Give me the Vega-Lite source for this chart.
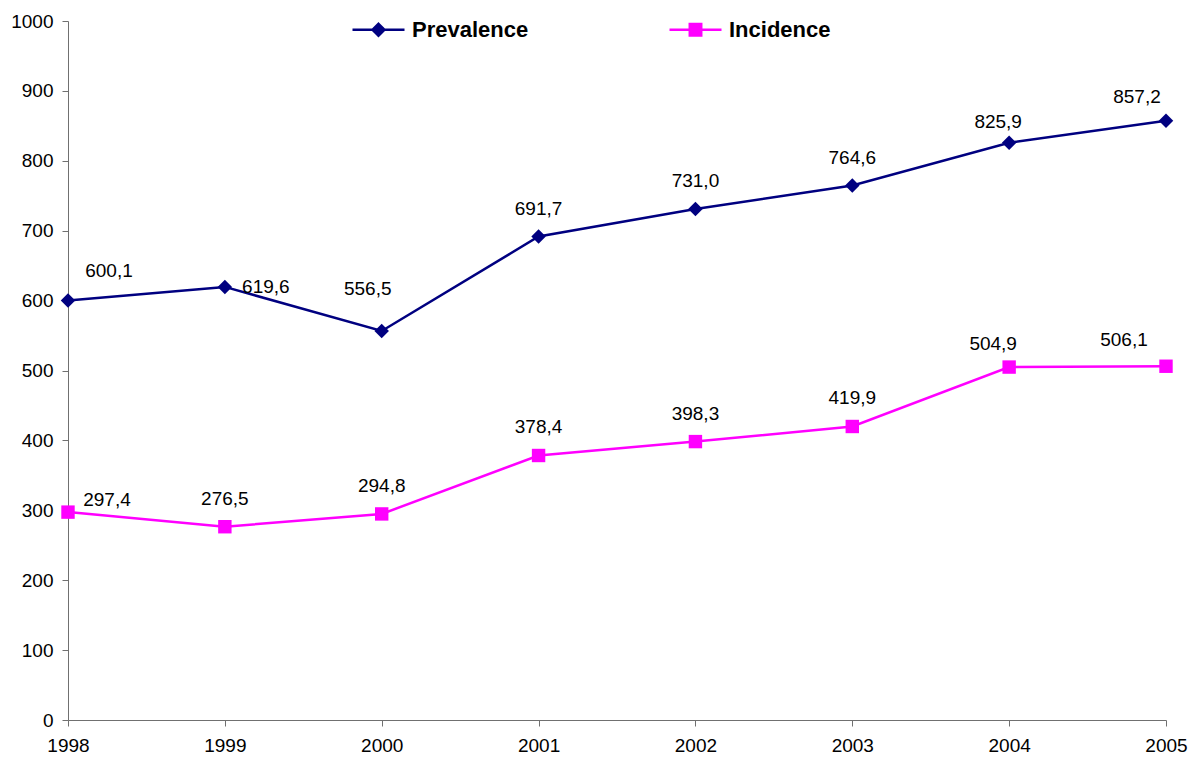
{
  "$schema": "https://vega.github.io/schema/vega-lite/v6.json",
  "width": 1098,
  "height": 699,
  "autosize": {"type": "none"},
  "padding": {"left": 68, "top": 21, "right": 33, "bottom": 39},
  "background": "white",
  "config": {
    "locale": {"number": {"decimal": ",", "thousands": ".", "grouping": [3], "currency": ["", ""]}},
    "view": {"stroke": null},
    "font": "Liberation Sans",
    "axis": {
      "grid": false,
      "title": null,
      "domainColor": "#707070",
      "domainWidth": 1,
      "tickColor": "#707070",
      "tickWidth": 1,
      "tickSize": 6,
      "labelFont": "Liberation Sans",
      "labelFontSize": 19,
      "labelColor": "#000000",
      "labelOverlap": false,
      "labelFlush": false
    },
    "legend": {
      "orient": "none",
      "legendX": 283,
      "legendY": -19,
      "direction": "horizontal",
      "padding": 0,
      "labelFont": "Liberation Sans",
      "labelFontSize": 22,
      "labelFontWeight": "bold",
      "labelColor": "#000000",
      "symbolSize": 2704,
      "symbolStrokeWidth": 2.5,
      "labelOffset": 6,
      "columnPadding": 135
    }
  },
  "data": {
    "values": [
      {"year": 1998, "series": "Prevalence", "value": 600.1},
      {"year": 1999, "series": "Prevalence", "value": 619.6},
      {"year": 2000, "series": "Prevalence", "value": 556.5},
      {"year": 2001, "series": "Prevalence", "value": 691.7},
      {"year": 2002, "series": "Prevalence", "value": 731.0},
      {"year": 2003, "series": "Prevalence", "value": 764.6},
      {"year": 2004, "series": "Prevalence", "value": 825.9},
      {"year": 2005, "series": "Prevalence", "value": 857.2},
      {"year": 1998, "series": "Incidence", "value": 297.4},
      {"year": 1999, "series": "Incidence", "value": 276.5},
      {"year": 2000, "series": "Incidence", "value": 294.8},
      {"year": 2001, "series": "Incidence", "value": 378.4},
      {"year": 2002, "series": "Incidence", "value": 398.3},
      {"year": 2003, "series": "Incidence", "value": 419.9},
      {"year": 2004, "series": "Incidence", "value": 504.9},
      {"year": 2005, "series": "Incidence", "value": 506.1}
    ]
  },
  "encoding": {
    "x": {
      "field": "year",
      "type": "quantitative",
      "scale": {"domain": [1998, 2005], "nice": false, "zero": false},
      "axis": {"values": [1998, 1999, 2000, 2001, 2002, 2003, 2004, 2005], "format": "d", "labelPadding": 10}
    },
    "y": {
      "field": "value",
      "type": "quantitative",
      "scale": {"domain": [0, 1000], "nice": false},
      "axis": {"values": [0, 100, 200, 300, 400, 500, 600, 700, 800, 900, 1000], "format": "d", "labelPadding": 9}
    }
  },
  "layer": [
    {
      "transform": [{"filter": "datum.series == 'Prevalence'"}],
      "mark": {"type": "line", "color": "#000080", "strokeWidth": 2.5},
      "encoding": {}
    },
    {
      "transform": [{"filter": "datum.series == 'Incidence'"}],
      "mark": {"type": "line", "color": "#FF00FF", "strokeWidth": 2.5},
      "encoding": {}
    },
    {
      "transform": [{"filter": "datum.series == 'Prevalence'"}],
      "mark": {"type": "point", "shape": "diamond", "filled": true, "color": "#000080", "opacity": 1, "size": 210},
      "encoding": {}
    },
    {
      "transform": [{"filter": "datum.series == 'Incidence'"}],
      "mark": {"type": "point", "shape": "square", "filled": true, "color": "#FF00FF", "opacity": 1, "size": 180},
      "encoding": {}
    },
    {
      "transform": [{"filter": "!((datum.series == 'Prevalence' && (datum.year == 1998 || datum.year == 1999 || datum.year == 2000 || datum.year == 2004 || datum.year == 2005)) || (datum.series == 'Incidence' && (datum.year == 1998 || datum.year == 2004 || datum.year == 2005)))"}],
      "mark": {"type": "text", "fontSize": 19, "align": "center", "baseline": "middle", "color": "#000000", "dy": -28},
      "encoding": {"text": {"field": "value", "type": "quantitative", "format": ".1f"}}
    },
    {
      "transform": [{"filter": "datum.series == 'Prevalence' && datum.year == 1998"}],
      "mark": {"type": "text", "fontSize": 19, "align": "center", "baseline": "middle", "color": "#000000", "dx": 41, "dy": -30},
      "encoding": {"text": {"field": "value", "type": "quantitative", "format": ".1f"}}
    },
    {
      "transform": [{"filter": "datum.series == 'Prevalence' && datum.year == 1999"}],
      "mark": {"type": "text", "fontSize": 19, "align": "center", "baseline": "middle", "color": "#000000", "dx": 41, "dy": 0},
      "encoding": {"text": {"field": "value", "type": "quantitative", "format": ".1f"}}
    },
    {
      "transform": [{"filter": "datum.series == 'Prevalence' && datum.year == 2000"}],
      "mark": {"type": "text", "fontSize": 19, "align": "center", "baseline": "middle", "color": "#000000", "dx": -14, "dy": -42},
      "encoding": {"text": {"field": "value", "type": "quantitative", "format": ".1f"}}
    },
    {
      "transform": [{"filter": "datum.series == 'Prevalence' && datum.year == 2004"}],
      "mark": {"type": "text", "fontSize": 19, "align": "center", "baseline": "middle", "color": "#000000", "dx": -11, "dy": -21},
      "encoding": {"text": {"field": "value", "type": "quantitative", "format": ".1f"}}
    },
    {
      "transform": [{"filter": "datum.series == 'Prevalence' && datum.year == 2005"}],
      "mark": {"type": "text", "fontSize": 19, "align": "center", "baseline": "middle", "color": "#000000", "dx": -29, "dy": -24},
      "encoding": {"text": {"field": "value", "type": "quantitative", "format": ".1f"}}
    },
    {
      "transform": [{"filter": "datum.series == 'Incidence' && datum.year == 1998"}],
      "mark": {"type": "text", "fontSize": 19, "align": "center", "baseline": "middle", "color": "#000000", "dx": 39, "dy": -12},
      "encoding": {"text": {"field": "value", "type": "quantitative", "format": ".1f"}}
    },
    {
      "transform": [{"filter": "datum.series == 'Incidence' && datum.year == 2004"}],
      "mark": {"type": "text", "fontSize": 19, "align": "center", "baseline": "middle", "color": "#000000", "dx": -16, "dy": -23},
      "encoding": {"text": {"field": "value", "type": "quantitative", "format": ".1f"}}
    },
    {
      "transform": [{"filter": "datum.series == 'Incidence' && datum.year == 2005"}],
      "mark": {"type": "text", "fontSize": 19, "align": "center", "baseline": "middle", "color": "#000000", "dx": -42, "dy": -26},
      "encoding": {"text": {"field": "value", "type": "quantitative", "format": ".1f"}}
    },
    {
      "transform": [{"filter": "datum.year < 0"}],
      "mark": {"type": "point", "filled": true, "opacity": 1, "strokeWidth": 2.5},
      "encoding": {
        "fill": {"field": "series", "type": "nominal", "scale": {"domain": ["Prevalence", "Incidence"], "range": ["#000080", "#FF00FF"]}, "legend": {"title": null}},
        "stroke": {"field": "series", "type": "nominal", "scale": {"domain": ["Prevalence", "Incidence"], "range": ["#000080", "#FF00FF"]}, "legend": {"title": null}},
        "shape": {"field": "series", "type": "nominal", "scale": {"domain": ["Prevalence", "Incidence"], "range": ["M-1,0L1,0M0,-0.23L0.23,0L0,0.23L-0.23,0Z", "M-1,0L1,0M-0.22,-0.22L0.22,-0.22L0.22,0.22L-0.22,0.22Z"]}, "legend": {"title": null}}
      }
    }
  ]
}
